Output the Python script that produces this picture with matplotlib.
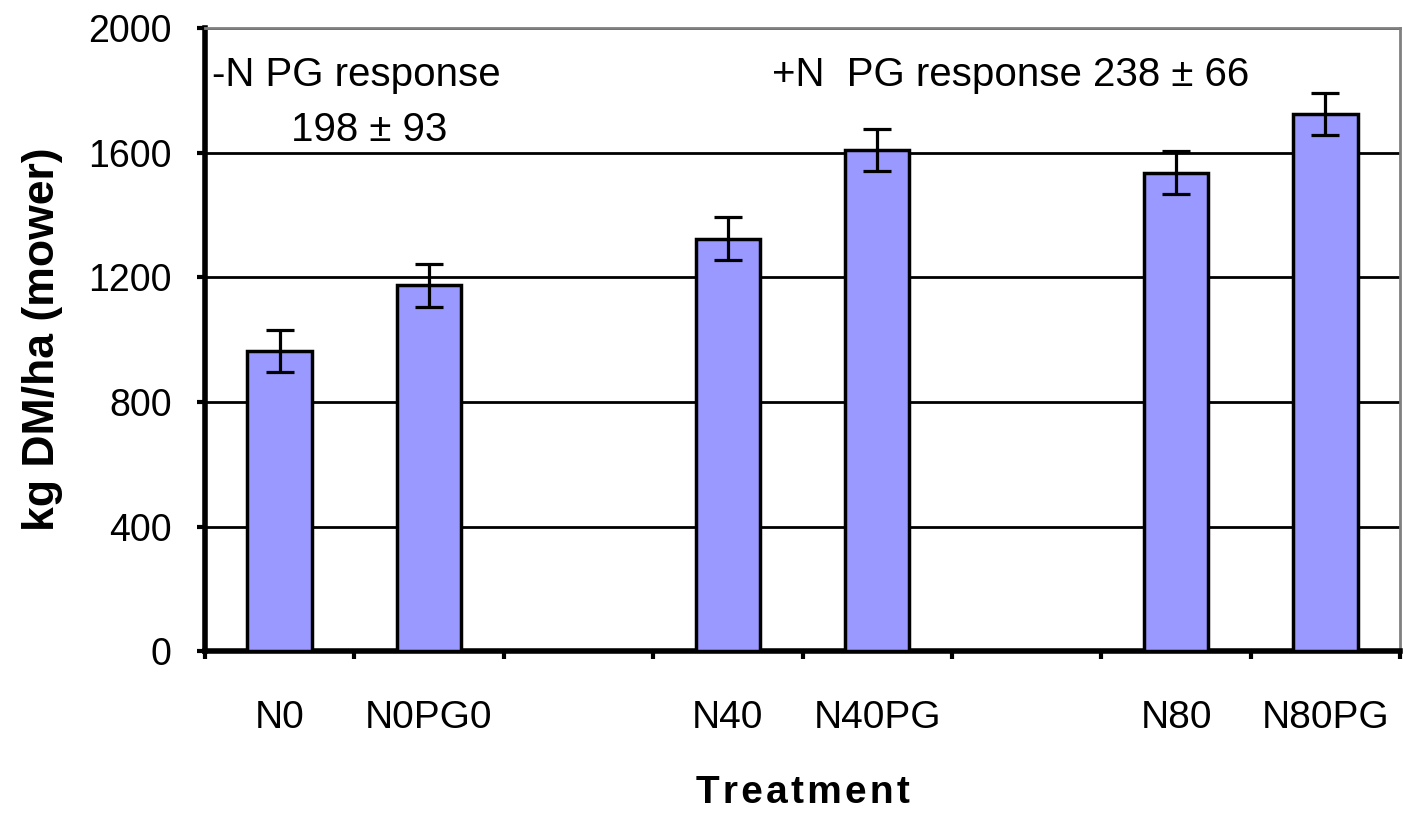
import matplotlib.pyplot as plt
import numpy as np

plt.rcParams['font.family'] = ['Liberation Sans', 'DejaVu Sans']

# slots: 8 category positions, two of them empty spacers
slot_labels = ['N0', 'N0PG0', '', 'N40', 'N40PG', '', 'N80', 'N80PG']
yield_kg = [963, 1175, np.nan, 1324, 1608, np.nan, 1536, 1725]
yield_err = [68, 69, np.nan, 68, 68, np.nan, 68, 67]
y_ticks = [0, 400, 800, 1200, 1600, 2000]

fig = plt.figure(figsize=(14.03, 8.13), dpi=100)
ax = fig.add_axes([0.146, 0.199, 0.852, 0.7665])

x = np.arange(len(slot_labels))
mask = ~np.isnan(yield_kg)
ax.bar(x[mask], np.array(yield_kg)[mask], width=0.43, color='#9999FF',
       edgecolor='black', linewidth=2.5, zorder=3)
ax.errorbar(x[mask], np.array(yield_kg)[mask], yerr=np.array(yield_err)[mask],
            fmt='none', ecolor='black', elinewidth=2.3, capsize=10, capthick=2.3,
            zorder=4)

ax.set_xlim(-0.5, len(slot_labels) - 0.5)
ax.set_ylim(0, 2000)
ax.set_yticks(y_ticks)
ax.yaxis.grid(True, color='black', linewidth=2, zorder=0)
ax.set_axisbelow(True)

# boundary ticks on major, labels on minor
ax.set_xticks(np.arange(len(slot_labels) + 1) - 0.5)
ax.set_xticklabels([])
ax.set_xticks(x[mask], [slot_labels[i] for i in x[mask]], minor=True)
ax.tick_params(axis='x', which='major', direction='out', length=6, width=3)
ax.tick_params(axis='x', which='minor', length=0, pad=35, labelsize=28)
ax.tick_params(axis='y', direction='out', length=6, width=3, pad=18, labelsize=27)

for side in ['left', 'bottom']:
    ax.spines[side].set_linewidth(4)
for side in ['top', 'right']:
    ax.spines[side].set_color('#808080')
    ax.spines[side].set_linewidth(2)

ax.set_ylabel('kg DM/ha (mower)', fontsize=32, fontweight='bold', labelpad=18)
ax.set_xlabel('\u200a'.join('Treatment'), fontsize=28, fontweight='bold', labelpad=28)

ax.text(-0.45, 1849, '-N PG response', fontsize=29, va='center', ha='left')
ax.text(0.6, 1672, '198 \u00b1 93', fontsize=29, va='center', ha='center')
ax.text(4.89, 1849, '+N  PG response 238 \u00b1 66', fontsize=29, va='center', ha='center')

fig.savefig('out.png', dpi=100)
